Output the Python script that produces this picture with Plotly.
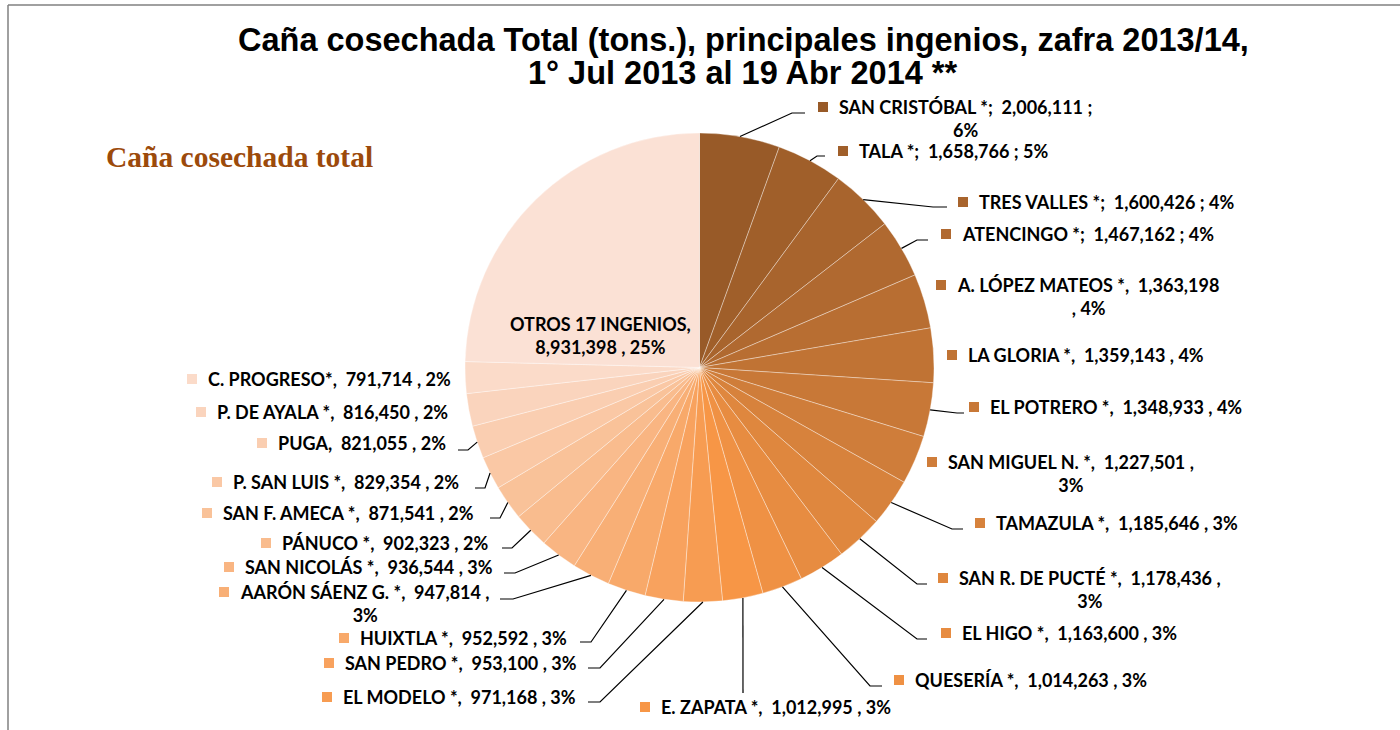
import math
import plotly.graph_objects as go

# ---------------- data ----------------
names = [
    "SAN CRISTÓBAL *", "TALA *", "TRES VALLES *", "ATENCINGO *", "A. LÓPEZ MATEOS *",
    "LA GLORIA *", "EL POTRERO *", "SAN MIGUEL N. *", "TAMAZULA *", "SAN R. DE PUCTÉ *",
    "EL HIGO *", "QUESERÍA *", "E. ZAPATA *", "EL MODELO *", "SAN PEDRO *",
    "HUIXTLA *", "AARÓN SÁENZ G. *", "SAN NICOLÁS *", "PÁNUCO *", "SAN F. AMECA *",
    "P. SAN LUIS *", "PUGA", "P. DE AYALA *", "C. PROGRESO*", "OTROS 17 INGENIOS",
]
values = [
    2006111, 1658766, 1600426, 1467162, 1363198,
    1359143, 1348933, 1227501, 1185646, 1178436,
    1163600, 1014263, 1012995, 971168, 953100,
    952592, 947814, 936544, 902323, 871541,
    829354, 821055, 816450, 791714, 8931398,
]
# label separator used in each data label (";" for the first four)
separators = [";"] * 4 + [","] * 21
# where a label wraps: "" none, "pct" before the percentage, "tail" before ", pct"
wraps = ["pct", "", "", "", "tail", "", "", "pct", "", "pct",
         "", "", "", "", "", "", "pct", "", "", "", "", "", "", "", "name"]

title_lines = ["Caña cosechada Total (tons.), principales ingenios, zafra 2013/14,",
               "1° Jul 2013 al 19 Abr 2014 **"]
subtitle_text = "Caña cosechada total"

# ---------------- layout / styles ----------------
W, H = 1400, 730
CX, CY, R = 699.5, 367.5, 234.5  # pie geometry in pixels


def hexrgb(h):
    h = h.lstrip("#")
    return [int(h[i:i + 2], 16) for i in (0, 2, 4)]


def mix(a, b, t):
    a, b = hexrgb(a), hexrgb(b)
    return "#%02X%02X%02X" % tuple(round(a[i] + (b[i] - a[i]) * t) for i in range(3))


dark, base, light = "#985A28", "#F79646", "#FBE1D5"
colors = [mix(dark, base, i / 12) for i in range(13)] + [mix(base, light, i / 12) for i in range(1, 13)]

# label anchor: (square left x, first line centre y) in pixels; None = drawn inside
label_pos = [
    (818, 107), (838, 151), (958, 202), (941, 234), (936, 285),
    (947, 355), (969, 407), (927, 462), (975, 523), (938, 578),
    (941, 633), (894, 680), (640, 707), (322, 697), (324, 663),
    (339, 638), (219, 592), (224, 567), (261, 543), (202, 513),
    (212, 482), (257, 443), (196, 412), (187, 379), None,
]
# leader lines: elbow point and end x (pixels)
leaders = {
    0: (792, 113, 805), 1: (817, 156, 825), 2: (933, 207, 947), 3: (917, 240, 928),
    6: (957, 413, 964), 8: (952, 529, 963), 9: (917, 584, 927), 10: (917, 639, 927),
    11: (870, 686, 882), 12: (743, 693, 743), 13: (600, 702, 588), 14: (600, 668, 588),
    15: (591, 642, 580), 16: (513, 599, 500), 17: (515, 573, 504), 18: (512, 548, 502),
    19: (500, 518, 490), 20: (485, 488, 475), 21: (468, 450, 458),
}

FONT = "Lato, 'Open Sans', sans-serif"
LBL_SIZE = 18
SQ = 10


def X(px):
    return px / W


def Y(py):
    return 1 - py / H


total = sum(values)
fig = go.Figure(go.Pie(
    labels=names, values=values, sort=False, direction="clockwise", rotation=0,
    marker=dict(colors=colors, line=dict(color="rgba(255,255,255,0.45)", width=0.8)),
    textinfo="none", hoverinfo="label+value+percent", showlegend=False,
    domain=dict(x=[X(CX - R), X(CX + R)], y=[Y(CY + R), Y(CY - R)]),
))

annotations = []
shapes = []
NB = "\u00a0"
lbl_font = dict(family=FONT, size=LBL_SIZE, color="#000000", weight="bold")
cum = 0
for i, (n, v) in enumerate(zip(names, values)):
    pct = round(v / total * 100)
    s = separators[i]
    num = f"{v:,}"
    w = wraps[i]
    if w == "name":
        txt = f"{n},<br>{num} , {pct}%"
    elif s == ";":
        txt = f"{n}{s}{NB}{NB}{num} {s}" + ("<br>" if w == "pct" else " ") + f"{pct}%"
    else:
        if w == "pct":
            txt = f"{n},{NB}{NB}{num} ,<br>{pct}%"
        elif w == "tail":
            txt = f"{n},{NB}{NB}{num}<br>, {pct}%"
        else:
            txt = f"{n},{NB}{NB}{num} , {pct}%"
    mid = (cum + v / 2) / total * 2 * math.pi
    cum += v
    pos = label_pos[i]
    if pos is None:
        annotations.append(dict(x=X(600), y=Y(335), xref="paper", yref="paper", text=txt,
                                showarrow=False, xanchor="center", yanchor="middle", align="center",
                                font=lbl_font))
        continue
    sx, sy = pos
    shapes.append(dict(type="rect", xref="paper", yref="paper", x0=X(sx), x1=X(sx + SQ),
                       y0=Y(sy + SQ / 2), y1=Y(sy - SQ / 2), fillcolor=colors[i], line=dict(width=0)))
    annotations.append(dict(x=X(sx + SQ + 9), y=Y(sy - 13), xref="paper", yref="paper", text=txt,
                            showarrow=False, xanchor="left", yanchor="top", align="center",
                            font=lbl_font))
    if i in leaders:
        ex, ey, endx = leaders[i]
        x0 = CX + R * math.sin(mid)
        y0 = CY - R * math.cos(mid)
        path = f"M {X(x0)},{Y(y0)} L {X(ex)},{Y(ey)} L {X(endx)},{Y(ey)}"
        shapes.append(dict(type="path", xref="paper", yref="paper", path=path,
                           line=dict(color="#000000", width=1.2)))

# title and subtitle
for k, (line, yc) in enumerate(zip(title_lines, [40, 73])):
    annotations.append(dict(x=X(743), y=Y(yc), xref="paper", yref="paper", text=line,
                            showarrow=False, xanchor="center", yanchor="middle", align="center",
                            font=dict(family="'Liberation Sans', Arial, sans-serif", size=32.5,
                                      color="#000000", weight="bold")))
annotations.append(dict(x=X(104), y=Y(157), xref="paper", yref="paper", text=subtitle_text,
                        showarrow=False, xanchor="left", yanchor="middle",
                        font=dict(family="'Liberation Serif', 'Times New Roman', serif", size=29.5,
                                  color="#9C4A0B", weight="bold")))
# frame lines
shapes.append(dict(type="line", xref="paper", yref="paper", x0=X(8), x1=X(8), y0=Y(5), y1=Y(730),
                   line=dict(color="#808080", width=1.5)))
shapes.append(dict(type="line", xref="paper", yref="paper", x0=X(8), x1=X(1400), y0=Y(5), y1=Y(5),
                   line=dict(color="#808080", width=1.5)))

fig.update_layout(
    width=W, height=H, margin=dict(l=0, r=0, t=0, b=0),
    paper_bgcolor="#FFFFFF", plot_bgcolor="#FFFFFF",
    annotations=annotations, shapes=shapes,
)
fig.write_html("out.html", config={"displayModeBar": False},
               post_script="document.body.style.margin='0px';")
